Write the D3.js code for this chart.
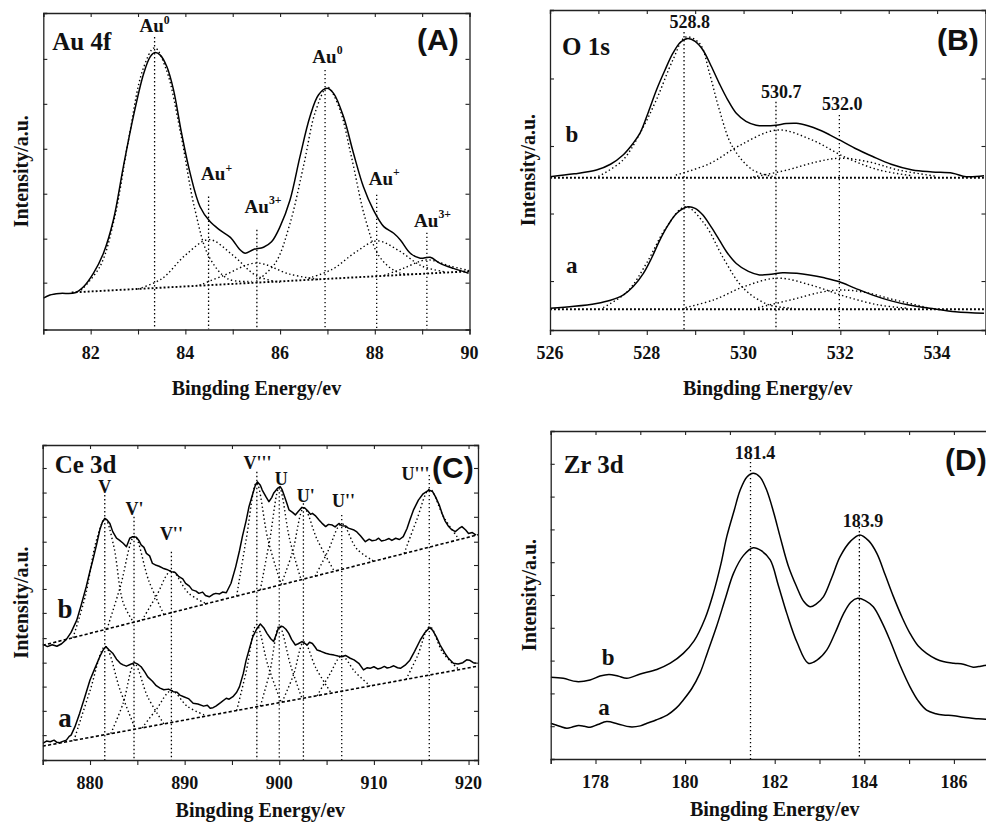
<!DOCTYPE html>
<html><head><meta charset="utf-8">
<script src="https://cdn.jsdelivr.net/npm/d3@7"></script>
<style>
html,body{margin:0;padding:0;background:#fff;}
svg{display:block;}
</style></head><body>
<svg id="chart" width="986" height="822"></svg>
<script>
// ================= DATA =================
// ---- Panel A : Au 4f ----
const auXMajor = [82, 84, 86, 88, 90];
const auXMinor = [81, 83, 85, 87, 89];
const auYTicks = [14.8, 28.7, 42.9, 57.1, 71.3, 85.5];
const auEnvelope = [[81.0,9.9],[81.14,10.9],[81.35,11.4],[81.67,11.6],[81.85,13.5],[82.06,17.8],[82.27,24.1],[82.48,34.6],[82.69,51.4],[82.9,67.2],[83.12,80.9],[83.26,86.2],[83.36,87.5],[83.47,86.7],[83.61,83],[83.75,75.7],[83.92,62],[84.1,49.4],[84.31,38.8],[84.52,34.1],[84.73,31.4],[84.95,29.1],[85.16,25.1],[85.26,24.1],[85.44,25.3],[85.65,26],[85.82,27.7],[86.0,32.5],[86.21,40.9],[86.42,54.6],[86.63,67.2],[86.81,74.1],[86.99,76.2],[87.13,74.6],[87.34,67.2],[87.55,55.7],[87.76,45.1],[87.97,37.8],[88.19,32.5],[88.4,30.4],[88.54,28.3],[88.75,24.1],[88.96,22.5],[89.17,22.8],[89.38,20.9],[89.66,19.3],[89.98,17.8]];
const auBaseline = [[81.6,11.7],[90,18.4]];
const auAu0First = [[81.8,12.4],[82.2,20],[82.5,35],[82.8,60],[83.1,82],[83.35,89],[83.6,82],[83.9,62],[84.2,38],[84.5,23],[84.9,16],[85.4,15.2]];
const auAuPlusFirst = [[83.0,12.8],[83.5,16],[84.0,23.5],[84.5,28.4],[85.0,23.5],[85.5,17],[86.0,14.9]];
const auAu3First = [[84.3,14],[84.8,17],[85.5,21],[86.2,17.5],[86.8,15.8]];
const auAu0Second = [[85.5,15.2],[85.9,21],[86.2,33],[86.5,52],[86.75,69],[87.0,76.5],[87.25,70],[87.5,55],[87.8,35],[88.1,23],[88.5,18],[89.0,17.6]];
const auAuPlusSecond = [[86.6,16.2],[87.1,19],[87.6,24.5],[88.05,28],[88.5,25],[89.0,20],[89.5,18.2]];
const auAu3Second = [[88.2,17.1],[88.6,19.3],[89.1,22],[89.6,20],[90.0,18.6]];
const auPeakEnergies = [83.35, 84.49, 85.51, 86.95, 88.04, 89.1];
const auPeakLineTops = [92.4, 42, 31.5, 82, 42.6, 30.6];
const auLabelBase = ["Au","Au","Au","Au","Au","Au"];
const auLabelSup = ["0","+","3+","0","+","3+"];
const auLabelX = [83.35, 84.66, 85.64, 87.0, 88.2, 89.22];
const auLabelY = [93.9, 47.2, 36.8, 84.2, 45.7, 32.4];

// ---- Panel B : O 1s ----
const oXMajor = [526, 528, 530, 532, 534];
const oXMinor = [527, 529, 531, 533, 535];
const oYTicks = [15.3, 36.4, 57.5, 78.6];
const oCurveB = [[526.0,47.9],[526.5,48.8],[526.96,50],[527.25,51.8],[527.51,54.7],[527.7,58],[527.86,61.5],[528.03,68],[528.2,75],[528.37,81],[528.54,86.5],[528.7,90],[528.85,91.1],[529.0,90.2],[529.16,87.5],[529.33,82.5],[529.5,77],[529.67,72],[529.85,67.7],[530.05,65.2],[530.26,64],[530.46,63.8],[530.67,64],[530.88,64.5],[531.09,64.6],[531.33,63.8],[531.57,62.5],[531.78,61],[531.98,59.4],[532.3,56.8],[532.67,54.2],[533.05,51.8],[533.49,50],[533.9,49.4],[534.32,49],[534.6,47.9],[534.97,48.2]];
const oCurveA = [[526.0,6.8],[526.5,7.4],[526.96,8.3],[527.25,9.3],[527.51,10.9],[527.72,13.6],[527.93,17.7],[528.1,22.5],[528.27,28.1],[528.45,33],[528.62,36.5],[528.85,38.5],[529.0,38],[529.16,35.9],[529.33,32.2],[529.5,28.1],[529.67,24],[529.85,20.8],[530.1,18.3],[530.33,17.2],[530.57,17.4],[530.81,17.9],[531.1,17.7],[531.36,17.2],[531.67,16.3],[531.98,15.1],[532.3,13.1],[532.67,10.9],[533.05,9.1],[533.42,7.8],[533.9,6.7],[534.38,5.7],[534.97,5.2]];
const oBaselineB = [[526,47.6],[535,47.6]];
const oBaselineA = [[526,6.5],[535,6.5]];
const oCompB1 = [[527.0,48],[527.5,53],[527.86,61.5],[528.2,72],[528.54,84.4],[528.8,91.5],[529.09,89.6],[529.3,80],[529.5,68.8],[529.77,57.3],[530.19,50],[530.6,48]];
const oCompB2 = [[528.6,48.4],[529.3,52],[529.9,57.5],[530.7,62.5],[531.4,59.5],[532.1,54],[532.8,50],[533.5,48.2]];
const oCompB3 = [[530.2,47.8],[530.9,50],[531.5,52.5],[532.0,53.7],[532.6,52.5],[533.2,50],[534.0,48]];
const oCompA1 = [[527.1,7],[527.6,12],[528.0,21],[528.4,32],[528.8,38.5],[529.2,33],[529.6,22],[530.0,13],[530.5,8],[531.0,6.8]];
const oCompA2 = [[528.8,7],[529.4,9.5],[530.0,13.5],[530.7,16.2],[531.4,14],[532.1,10.5],[532.8,7.8],[533.4,6.8]];
const oCompA3 = [[530.3,7],[531.0,9.5],[531.6,11.8],[532.0,12.5],[532.5,11.8],[533.1,9.5],[533.8,7]];
const oPeakEnergies = [528.77, 530.67, 531.98];
const oPeakLineTops = [93.1, 71.3, 67.2];
const oPeakLabels = ["528.8", "530.7", "532.0"];
const oLabelX = [528.89, 530.78, 532.04];
const oLabelY = [94.4, 72.5, 68.75];
const oSampleNames = ["b", "a"];
const oSampleX = [526.45, 526.45];
const oSampleY = [58.75, 17.8];

// ---- Panel C : Ce 3d ----
const ceXMajor = [880, 890, 900, 910, 920];
const ceXMinor = [875, 885, 895, 905, 915];
const ceYTicks = [7.9, 15.6, 23.3, 30.9, 38.7, 46.7, 54.3, 61.9, 69.3, 77.2, 84.9, 92.7];
const ceCurveB = [[875.0,36.8],[875.5,36.0],[876.0,36.6],[876.5,36.1],[877.0,36.9],[877.5,38.3],[878.0,40.5],[878.6,44.4],[879.1,49.5],[879.6,55],[880.0,60],[880.3,63.5],[880.7,68.5],[881.03,73],[881.3,75.5],[881.56,76.7],[881.8,76.2],[882.1,75.1],[882.4,72.5],[882.8,70.4],[883.1,69.8],[883.5,68.8],[883.85,67.7],[884.2,70.4],[884.5,70.9],[884.9,70.7],[885.2,69.5],[885.4,68.3],[885.7,67.5],[885.96,65.6],[886.3,64.8],[886.6,62.4],[887.0,61.8],[887.3,61.5],[887.7,60.9],[888.1,60.5],[888.6,59.8],[889.0,59.5],[889.4,58.2],[889.8,57.5],[890.1,56.1],[890.5,55.2],[890.8,54],[891.2,53.6],[891.5,52.9],[891.9,53.3],[892.2,52.2],[892.6,51.8],[893.0,52.6],[893.3,52.9],[893.7,52.7],[894.0,53.3],[894.4,53.1],[894.9,56.1],[895.4,61.4],[895.8,66.5],[896.1,70.9],[896.5,76],[896.8,80.4],[897.2,84.5],[897.5,87.5],[897.7,88.3],[898.0,87.2],[898.2,85.7],[898.6,83.5],[898.9,82],[899.2,83.3],[899.4,84.7],[899.8,86.2],[900.1,86.8],[900.3,85.8],[900.5,84.1],[900.8,81.5],[901.03,79.4],[901.4,78.6],[901.7,77.8],[902.0,78.9],[902.4,80.2],[902.7,80],[903.0,79.1],[903.3,78],[903.5,78.3],[903.8,77.6],[904.2,76.2],[904.5,75.2],[904.9,74.1],[905.2,74.8],[905.6,74.6],[905.9,74],[906.3,75.1],[906.6,74.4],[907.0,74.3],[907.3,73.6],[907.9,73],[908.2,72.4],[908.6,71.1],[908.9,70],[909.1,69.3],[909.5,70.1],[909.8,69.6],[910.2,69.8],[910.5,70.4],[910.8,69.5],[911.2,69.8],[911.6,70.3],[911.9,69.7],[912.3,70.4],[912.7,70.0],[913.1,70.9],[913.5,73.5],[913.8,76.2],[914.2,79.5],[914.7,82.5],[915.2,84.5],[915.8,85.7],[916.2,85.2],[916.5,83.6],[916.9,81],[917.2,78.3],[917.5,76],[917.9,74.1],[918.2,73.2],[918.6,72.5],[919.0,73.5],[919.3,74.1],[919.7,73],[920.0,71.9],[920.4,72.2],[920.8,71.4]];
const ceCurveA = [[875.0,5.3],[875.4,6.0],[875.8,5.8],[876.2,6.3],[876.5,5.6],[876.8,5.5],[877.2,6.0],[877.5,6.3],[877.8,7.5],[878.0,7.9],[878.4,10.5],[878.9,14.8],[879.4,19.5],[880.0,25.4],[880.5,29],[881.03,32.8],[881.4,35],[881.67,36],[882.0,35],[882.4,33.9],[882.8,32],[883.2,30.7],[883.5,30.2],[883.85,29.8],[884.3,30.4],[884.7,30.9],[885.0,30.5],[885.4,29.6],[885.8,27.9],[886.1,26.4],[886.6,25],[887.0,23.6],[887.4,22.8],[887.8,22.3],[888.3,22.5],[888.8,21.7],[889.2,21.5],[889.5,20.6],[889.9,20.1],[890.4,19.5],[890.9,18],[891.4,17.8],[892.0,17.1],[892.4,17.4],[892.7,16.4],[893.0,16.6],[893.3,17.1],[893.8,18.2],[894.4,19.6],[894.7,19.3],[895.1,20.1],[895.5,21.5],[895.8,23.3],[896.2,27.5],[896.5,31.7],[896.9,36],[897.2,39.1],[897.6,41.5],[898.0,43.2],[898.4,41.8],[898.7,40.2],[899.1,38.5],[899.4,37.6],[899.7,40],[899.9,41.8],[900.2,42.5],[900.4,42.3],[900.7,41.5],[901.0,40.2],[901.3,38.3],[901.7,36.5],[902.0,36.9],[902.4,37.6],[902.7,37],[902.95,36.5],[903.2,37.4],[903.5,37],[903.8,35.8],[904.0,34.9],[904.4,34.5],[904.9,33.9],[905.3,33.6],[905.8,33.3],[906.2,33.0],[906.6,32.8],[907.0,33.2],[907.5,32.3],[907.9,31.8],[908.4,30.7],[908.9,28.6],[909.3,29.3],[909.6,29.1],[910.0,29.6],[910.4,28.9],[910.7,29.1],[911.1,29.7],[911.4,29.2],[911.7,29.4],[912.1,29.9],[912.5,29.3],[912.8,29.1],[913.3,30.1],[913.8,31.7],[914.3,34.5],[914.9,38.1],[915.4,40.5],[915.9,42.1],[916.2,41.2],[916.6,39.1],[917.0,36.5],[917.5,33.9],[917.9,32.2],[918.4,30.7],[918.9,30.5],[919.4,30.9],[919.8,31.8],[920.1,31.7],[920.5,30.9],[920.8,30.7]];
const ceBaselineB = [[875,36.4],[921,71.5]];
const ceBaselineA = [[875,4.4],[921,29.8]];
const ceCompsB = [
  [[878.2,38.8],[879.5,52],[880.7,70],[881.6,76.5],[882.5,68],[883.5,50],[884.6,43.7]],
  [[881.8,41.6],[883.2,55],[884.7,71],[886.2,57],[887.8,46.2]],
  [[885.5,44.4],[887.0,52],[888.6,60],[890.4,53],[892.3,49.6]],
  [[895.5,52.1],[896.5,70],[897.6,88],[898.8,70],[900.2,55.7]],
  [[898.0,54],[899.0,70],[900.0,86.5],[901.1,70],[902.3,57.3]],
  [[900.2,55.7],[901.4,66],[902.6,80],[904.0,70],[905.8,60]],
  [[903.8,58.4],[905.1,66],[906.6,75],[908.2,67],[910.0,63.1]],
  [[913.2,65.6],[914.5,76],[915.9,86],[917.4,77],[919.0,70]]
];
const ceCompsA = [
  [[878.3,6.2],[880.0,22],[881.6,36],[883.2,22],[884.8,9.8]],
  [[882.2,8.4],[883.5,18],[884.7,30.5],[886.1,20],[887.8,11.5]],
  [[885.5,10.2],[887.0,16],[888.6,22],[890.3,17],[892.3,14]],
  [[895.5,15.7],[896.5,28],[897.6,43],[898.8,30],[900.2,18.3]],
  [[898.0,17.1],[899.0,28],[900.0,42.5],[901.2,30],[902.4,19.5]],
  [[900.3,18.4],[901.5,27],[902.6,37.5],[903.9,29],[905.5,21.2]],
  [[904.0,20.4],[905.3,27],[906.6,33],[908.0,28],[909.6,23.5]],
  [[913.4,25.6],[914.6,33],[915.9,42.3],[917.3,34],[919.0,28.7]]
];
const cePeakEnergies = [881.56, 884.65, 888.6, 897.63, 900.0, 902.55, 906.6, 915.85];
const cePeakLineTops = [84.1, 77.2, 66.1, 91.5, 86.3, 81.5, 77.8, 90.5];
const cePeakLabels = ["V", "V'", "V''", "V'''", "U", "U'", "U''", "U'''"];
const ceLabelX = [881.56, 884.7, 888.6, 897.7, 900.2, 902.8, 906.8, 914.4];
const ceLabelY = [84.8, 77.8, 69.8, 92.4, 87.3, 81.9, 80.3, 88.9];
const ceSampleNames = ["b", "a"];
const ceSampleX = [877.35, 877.35];
const ceSampleY = [45.1, 10.5];

// ---- Panel D : Zr 3d ----
const zrXMajor = [178, 180, 182, 184, 186];
const zrXMinor = [177, 179, 181, 183, 185, 187];
const zrYTicks = [10, 20, 30, 40, 50, 60, 70, 80, 90];
const zrCurveB = [[177.0,24.9],[177.28,24.6],[177.58,23.6],[177.88,24.1],[178.1,25.3],[178.3,25.8],[178.5,25.3],[178.7,24.6],[179.0,25.9],[179.37,27.3],[179.67,29.2],[179.96,32.2],[180.2,36.0],[180.45,43],[180.63,50.5],[180.8,59.5],[180.93,67.8],[181.1,76],[181.23,82],[181.38,86],[181.52,87.1],[181.67,86],[181.82,82],[181.98,75],[182.12,67.8],[182.3,59],[182.49,52.5],[182.65,48],[182.79,46.4],[182.93,47.3],[183.09,49.5],[183.28,55.5],[183.46,61.7],[183.7,66.5],[183.9,68.3],[184.1,66.5],[184.28,62.7],[184.47,56],[184.65,49.5],[184.85,43],[185.02,38.3],[185.2,34.5],[185.39,32.2],[185.6,30.5],[185.76,29.7],[186.0,29.2],[186.21,28.9],[186.43,28],[186.6,28.3],[186.75,28.7],[187.0,29.2]];
const zrCurveA = [[177.0,10.9],[177.2,10.0],[177.36,9.4],[177.5,9.8],[177.62,10.2],[177.75,10.0],[177.88,9.7],[178.05,10.5],[178.25,11.4],[178.5,10.7],[178.77,9.8],[179.0,10.1],[179.15,10.9],[179.35,11.9],[179.6,13.4],[179.8,15.5],[179.96,18],[180.15,21.5],[180.33,26.1],[180.5,32.5],[180.7,40.3],[180.9,49],[181.08,56.6],[181.3,62],[181.52,64.4],[181.7,63.5],[181.9,60.7],[182.08,53],[182.27,44.4],[182.5,35.5],[182.75,29.2],[182.95,30.2],[183.16,33.2],[183.35,38.5],[183.54,44.4],[183.7,47.8],[183.85,49],[184.02,48.3],[184.2,46.4],[184.4,41.5],[184.57,36.3],[184.8,28.5],[185.02,22],[185.2,17.8],[185.39,14.9],[185.6,13.8],[185.76,13.4],[186.0,13.2],[186.21,12.7],[186.5,12.3],[186.71,12.1],[187.0,12.2]];
const zrPeakEnergies = [181.46, 183.89];
const zrPeakLineTops = [91.8, 70.7];
const zrPeakLabels = ["181.4", "183.9"];
const zrLabelX = [181.56, 183.97];
const zrLabelY = [91.5, 70.7];
const zrSampleNames = ["b", "a"];
const zrSampleX = [178.28, 178.19];
const zrSampleY = [28.7, 13.4];

// ================= DRAWING =================
const svg = d3.select("#chart");
const SERIF = "'Liberation Serif','Times New Roman',serif";
const SANS = "'Liberation Sans',Arial,sans-serif";
const INK = "#111";

const STY = {
  solid: {w: 1.5, dash: null},
  dot: {w: 1.4, dash: "1.4,2.6"},
  vline: {w: 1.3, dash: "1.4,2.6"},
  baseDot: {w: 1.9, dash: "1.9,2.1"},
  baseDash: {w: 1.6, dash: "3.2,2.2"}
};

function txt(sel, family, size) {
  return sel.style("font-family", family).style("font-weight", "bold")
    .style("font-size", size + "px").attr("fill", INK);
}

function panel(cfg) {
  const f = cfg.frame;
  const x = d3.scaleLinear().domain(cfg.xDomain).range([f.l, f.r]);
  const y = d3.scaleLinear().domain([0, 100]).range([f.b, f.t]);
  const g = svg.append("g");
  const clipId = "clip" + cfg.id;
  svg.append("clipPath").attr("id", clipId).append("rect")
    .attr("x", f.l).attr("y", f.t).attr("width", f.r - f.l).attr("height", f.b - f.t);
  const plot = g.append("g").attr("clip-path", `url(#${clipId})`);

  const line = d3.line().x(d => x(d[0])).y(d => y(d[1]));
  function draw(data, sty, curve) {
    plot.append("path").datum(data)
      .attr("d", line.curve(curve || d3.curveCatmullRom.alpha(0.5)))
      .attr("fill", "none").attr("stroke", "#000")
      .attr("stroke-width", sty.w)
      .attr("stroke-dasharray", sty.dash)
      .attr("stroke-linejoin", "round");
  }
  cfg.layers.forEach(L => draw(L.data, L.sty, L.curve));

  // vertical peak lines
  cfg.vEnergies.forEach((e, i) => {
    plot.append("line").attr("x1", x(e)).attr("x2", x(e))
      .attr("y1", y(cfg.vTops[i])).attr("y2", f.b)
      .attr("stroke", "#000").attr("stroke-width", STY.vline.w)
      .attr("stroke-dasharray", STY.vline.dash);
  });

  // axes (ticks only; labels drawn below in serif)
  const axG = g.append("g").attr("color", "#222");
  axG.append("g").attr("transform", `translate(0,${f.b})`)
    .call(d3.axisBottom(x).tickValues(cfg.xMajor.concat(cfg.xMinor)).tickSize(5).tickFormat(""));
  axG.append("g").attr("transform", `translate(0,${f.t})`)
    .call(d3.axisTop(x).tickValues(cfg.xMajor.concat(cfg.xMinor)).tickSize(-4).tickFormat(""));
  axG.append("g").attr("transform", `translate(${f.l},0)`)
    .call(d3.axisLeft(y).tickValues(cfg.yTicks).tickSize(-4).tickFormat(""));
  axG.append("g").attr("transform", `translate(${f.r},0)`)
    .call(d3.axisRight(y).tickValues(cfg.yTicks).tickSize(-4).tickFormat(""));
  axG.selectAll(".domain").attr("stroke-width", 1.3);
  axG.selectAll(".tick line").attr("stroke-width", 1.1);

  txt(g.append("g").selectAll("text").data(cfg.xMajor).join("text")
    .attr("x", d => x(d)).attr("y", f.b + 29).attr("text-anchor", "middle")
    .text(d => d3.format("d")(d)), SERIF, 18);

  // axis titles
  txt(g.append("text").attr("x", (f.l + f.r) / 2).attr("y", f.b + cfg.titleOff)
    .attr("text-anchor", "middle").text("Bingding Energy/ev"), SERIF, 20);
  txt(g.append("text").attr("transform", `translate(${f.l - 15},${(f.t + f.b) / 2}) rotate(-90)`)
    .attr("text-anchor", "middle").text("Intensity/a.u."), SERIF, 20);

  // panel name and letter
  txt(g.append("text").attr("x", f.l + cfg.nameOff[0]).attr("y", f.t + cfg.nameOff[1])
    .text(cfg.name), SERIF, 25);
  txt(g.append("text").attr("x", cfg.letterPos[0]).attr("y", cfg.letterPos[1])
    .text(cfg.letter), SANS, 30);

  // peak labels
  cfg.labels.forEach(L => {
    const t = txt(g.append("text").attr("x", x(L.x)).attr("y", y(L.y))
      .attr("text-anchor", "middle"), SERIF, L.size);
    t.append("tspan").text(L.text);
    if (L.sup) t.append("tspan").attr("dy", -L.size * 0.45).style("font-size", (L.size * 0.62) + "px").text(L.sup);
  });
  return {x, y};
}

// Panel A
panel({
  id: "A", frame: {l: 43.3, r: 469.5, t: 13, b: 329.5}, xDomain: [81, 90],
  xMajor: auXMajor, xMinor: auXMinor, yTicks: auYTicks, titleOff: 65,
  layers: [
    {data: auBaseline, sty: STY.baseDot, curve: d3.curveLinear},
    {data: auAu0First, sty: STY.dot}, {data: auAuPlusFirst, sty: STY.dot}, {data: auAu3First, sty: STY.dot},
    {data: auAu0Second, sty: STY.dot}, {data: auAuPlusSecond, sty: STY.dot}, {data: auAu3Second, sty: STY.dot},
    {data: auEnvelope, sty: STY.solid}
  ],
  vEnergies: auPeakEnergies, vTops: auPeakLineTops,
  name: "Au 4f", nameOff: [9, 37], letter: "(A)", letterPos: [417, 50],
  labels: auLabelBase.map((t, i) => ({text: t, sup: auLabelSup[i], x: auLabelX[i], y: auLabelY[i], size: 19}))
});

// Panel B
panel({
  id: "B", frame: {l: 550, r: 985.5, t: 10, b: 330}, xDomain: [526, 535],
  xMajor: oXMajor, xMinor: oXMinor, yTicks: oYTicks, titleOff: 65,
  layers: [
    {data: oBaselineB, sty: STY.baseDot, curve: d3.curveLinear},
    {data: oBaselineA, sty: STY.baseDot, curve: d3.curveLinear},
    {data: oCompB1, sty: STY.dot}, {data: oCompB2, sty: STY.dot}, {data: oCompB3, sty: STY.dot},
    {data: oCompA1, sty: STY.dot}, {data: oCompA2, sty: STY.dot}, {data: oCompA3, sty: STY.dot},
    {data: oCurveB, sty: STY.solid}, {data: oCurveA, sty: STY.solid}
  ],
  vEnergies: oPeakEnergies, vTops: oPeakLineTops,
  name: "O 1s", nameOff: [12, 45], letter: "(B)", letterPos: [937, 50],
  labels: oPeakLabels.map((t, i) => ({text: t, x: oLabelX[i], y: oLabelY[i], size: 18}))
    .concat(oSampleNames.map((t, i) => ({text: t, x: oSampleX[i], y: oSampleY[i], size: 23})))
});

// Panel C
panel({
  id: "C", frame: {l: 42.7, r: 478, t: 445, b: 760}, xDomain: [875, 921],
  xMajor: ceXMajor, xMinor: ceXMinor, yTicks: ceYTicks, titleOff: 57,
  layers: [
    {data: ceBaselineB, sty: STY.baseDash, curve: d3.curveLinear},
    {data: ceBaselineA, sty: STY.baseDash, curve: d3.curveLinear}
  ].concat(ceCompsB.map(c => ({data: c, sty: STY.dot})))
   .concat(ceCompsA.map(c => ({data: c, sty: STY.dot})))
   .concat([
    {data: ceCurveB, sty: STY.solid, curve: d3.curveLinear},
    {data: ceCurveA, sty: STY.solid, curve: d3.curveLinear}
  ]),
  vEnergies: cePeakEnergies, vTops: cePeakLineTops,
  name: "Ce 3d", nameOff: [12, 28], letter: "(C)", letterPos: [432, 478],
  labels: cePeakLabels.map((t, i) => ({text: t, x: ceLabelX[i], y: ceLabelY[i], size: 18}))
    .concat(ceSampleNames.map((t, i) => ({text: t, x: ceSampleX[i], y: ceSampleY[i], size: 27})))
});

// Panel D
panel({
  id: "D", frame: {l: 550.7, r: 998.7, t: 431, b: 759}, xDomain: [177, 187],
  xMajor: zrXMajor, xMinor: zrXMinor, yTicks: zrYTicks, titleOff: 57,
  layers: [
    {data: zrCurveB, sty: STY.solid}, {data: zrCurveA, sty: STY.solid}
  ],
  vEnergies: zrPeakEnergies, vTops: zrPeakLineTops,
  name: "Zr 3d", nameOff: [13, 42], letter: "(D)", letterPos: [945, 470],
  labels: zrPeakLabels.map((t, i) => ({text: t, x: zrLabelX[i], y: zrLabelY[i], size: 18}))
    .concat(zrSampleNames.map((t, i) => ({text: t, x: zrSampleX[i], y: zrSampleY[i], size: 23})))
});
</script>
</body></html>
